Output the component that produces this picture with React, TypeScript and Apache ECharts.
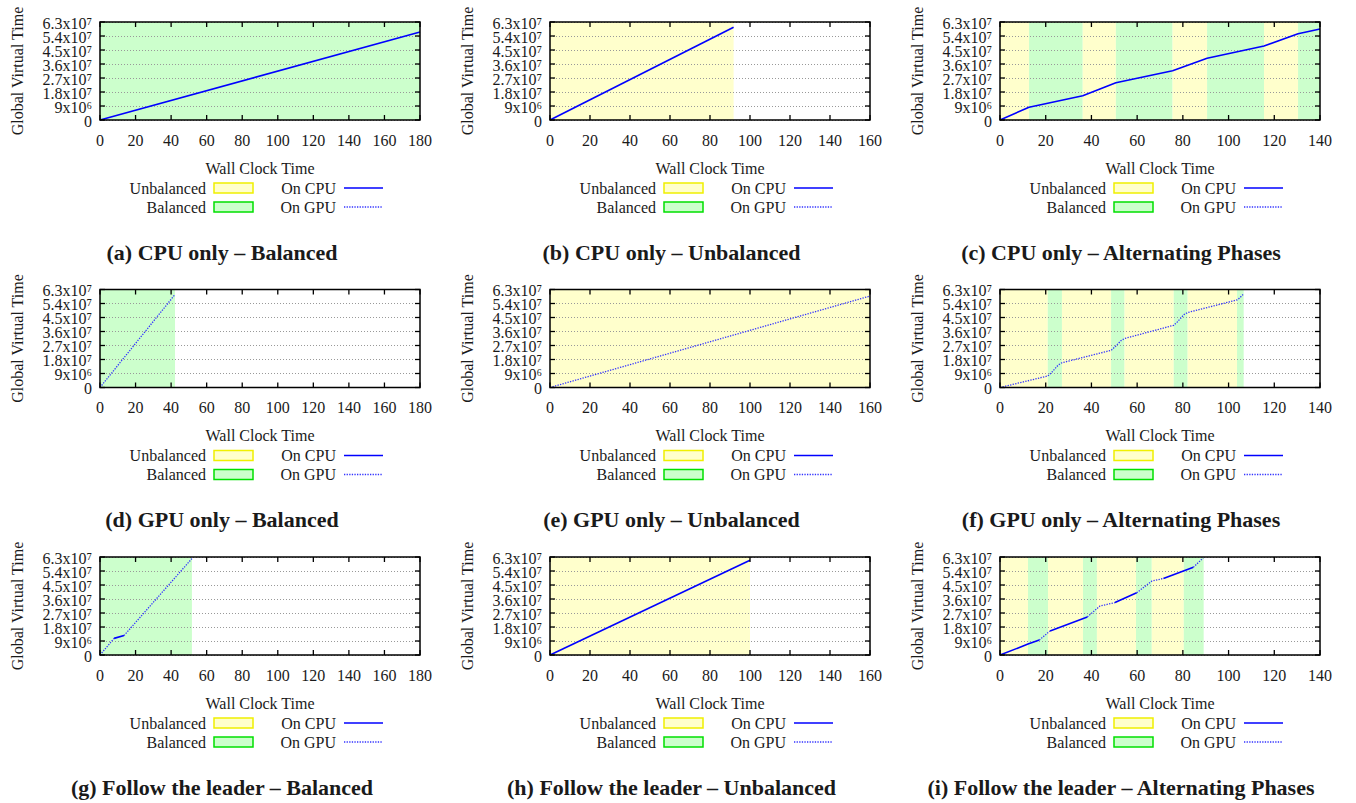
import React, { useEffect, useRef } from 'react';
import * as echarts from 'echarts';

const FONT = '"Liberation Serif", "Times New Roman", serif';
const TEXT = '#1a1a1a';

const captions = [
  '(a) CPU only – Balanced',
  '(b) CPU only – Unbalanced',
  '(c) CPU only – Alternating Phases',
  '(d) GPU only – Balanced',
  '(e) GPU only – Unbalanced',
  '(f) GPU only – Alternating Phases',
  '(g) Follow the leader – Balanced',
  '(h) Follow the leader – Unbalanced',
  '(i) Follow the leader – Alternating Phases',
];

const xTicks180 = [0, 20, 40, 60, 80, 100, 120, 140, 160, 180];
const xTicks160 = [0, 20, 40, 60, 80, 100, 120, 140, 160];
const xTicks140 = [0, 20, 40, 60, 80, 100, 120, 140];
const panelXTicks = [xTicks180, xTicks160, xTicks140, xTicks180, xTicks160, xTicks140, xTicks180, xTicks160, xTicks140];
const xInterval = 20;
const yMax = 6.3e7;
const yInterval = 9e6;
const yTicks = [0, 9e6, 1.8e7, 2.7e7, 3.6e7, 4.5e7, 5.4e7, 6.3e7];
const yTickLabels = ['0', '9x10⁶', '1.8x10⁷', '2.7x10⁷', '3.6x10⁷', '4.5x10⁷', '5.4x10⁷', '6.3x10⁷'];

// phases: [start, end, kind]  U = Unbalanced, B = Balanced
const phasesA = [[0, 180, 'B']];
const phasesB = [[0, 91.8, 'U']];
const phasesC = [[0, 12.7, 'U'], [12.7, 36.2, 'B'], [36.2, 50.7, 'U'], [50.7, 75.5, 'B'], [75.5, 90.6, 'U'], [90.6, 115.5, 'B'], [115.5, 130.4, 'U'], [130.4, 140, 'B']];
const phasesD = [[0, 42.2, 'B']];
const phasesE = [[0, 160, 'U']];
const phasesF = [[0, 20.9, 'U'], [20.9, 27.1, 'B'], [27.1, 48.6, 'U'], [48.6, 54.5, 'B'], [54.5, 76, 'U'], [76, 82.1, 'B'], [82.1, 103.7, 'U'], [103.7, 106.6, 'B']];
const phasesG = [[0, 51.7, 'B']];
const phasesH = [[0, 100, 'U']];
const phasesI = [[0, 12.25, 'U'], [12.25, 21, 'B'], [21, 36.3, 'U'], [36.3, 42.4, 'B'], [42.4, 59.5, 'U'], [59.5, 66.4, 'B'], [66.4, 80.4, 'U'], [80.4, 89.1, 'B']];

// line segments: list of [wall clock, global virtual time] points
const cpuA = [[[0, 0], [180, 5.66e7]]];
const gpuA = [];
const cpuB = [[[0, 0], [91.8, 5.96e7]]];
const gpuB = [];
const cpuC = [[[0, 0], [12.7, 0.82e7], [36.2, 1.56e7], [50.7, 2.4e7], [75.5, 3.17e7], [90.6, 3.97e7], [115.5, 4.76e7], [130.4, 5.55e7], [140, 5.85e7]]];
const gpuC = [];
const cpuD = [];
const gpuD = [[[0, 0], [42, 5.95e7]]];
const cpuE = [];
const gpuE = [[[0, 0], [160, 5.88e7]]];
const cpuF = [];
const gpuF = [[[0, 0], [20.9, 0.74e7], [22.5, 0.95e7], [25.5, 1.45e7], [27.1, 1.59e7], [48.6, 2.39e7], [50.2, 2.6e7], [53, 3.02e7], [54.5, 3.15e7], [76, 4.0e7], [77.6, 4.22e7], [80.6, 4.7e7], [82.1, 4.82e7], [103.7, 5.63e7], [104.8, 5.75e7], [106.6, 6.02e7]]];
const cpuG = [[[7.9, 1.07e7], [13.5, 1.25e7]]];
const gpuG = [[[0, 0], [7.9, 1.07e7]], [[13.5, 1.25e7], [51.7, 6.2e7]]];
const cpuH = [[[0, 0], [100, 6.09e7]]];
const gpuH = [];
const cpuI = [[[0, 0], [12.25, 0.7e7], [17.2, 0.96e7]], [[21.9, 1.55e7], [38.2, 2.45e7]], [[50.3, 3.37e7], [59.8, 4.0e7]], [[71.5, 4.92e7], [84.6, 5.64e7]]];
const gpuI = [[[17.2, 0.96e7], [21.9, 1.55e7]], [[38.2, 2.45e7], [43.75, 3.15e7], [50.3, 3.37e7]], [[59.8, 4.0e7], [66.4, 4.75e7], [71.5, 4.92e7]], [[84.6, 5.64e7], [88.9, 6.24e7]]];

const panelPhases = [phasesA, phasesB, phasesC, phasesD, phasesE, phasesF, phasesG, phasesH, phasesI];
const panelCpu = [cpuA, cpuB, cpuC, cpuD, cpuE, cpuF, cpuG, cpuH, cpuI];
const panelGpu = [gpuA, gpuB, gpuC, gpuD, gpuE, gpuF, gpuG, gpuH, gpuI];

const YELLOW_FILL = '#ffffcc';
const GREEN_FILL = '#ccffcc';
const YELLOW_EDGE = '#f0f000';
const GREEN_EDGE = '#00e000';
const CPU_COLOR = '#0000ff';
const GPU_COLOR = '#3333ff';
const TICK_LEN = 5;

const PLOT_W = 320;
const PLOT_H = 98;
const plotLeft = (c: number) => 100 + 450 * c;
const plotTop = (r: number) => 22 + 267.5 * r;
const captionCenter = (c: number) => 222 + 449.5 * c;

function buildOption() {
  const grid: any[] = [];
  const xAxis: any[] = [];
  const yAxis: any[] = [];
  const series: any[] = [];

  for (let i = 0; i < 9; i++) {
    const r = Math.floor(i / 3);
    const c = i % 3;
    const xTicks = panelXTicks[i];
    const xMax = xTicks[xTicks.length - 1];
    grid.push({ left: plotLeft(c), top: plotTop(r), width: PLOT_W, height: PLOT_H, containLabel: false, show: false });
    xAxis.push({
      type: 'value', gridIndex: i, min: 0, max: xMax, interval: xInterval, position: 'bottom', z: 2,
      axisLine: { show: false }, axisTick: { show: false }, splitLine: { show: false },
      axisLabel: { show: true, margin: 12, fontSize: 16, fontFamily: FONT, color: TEXT, showMinLabel: true, showMaxLabel: true },
      name: 'Wall Clock Time', nameLocation: 'middle', nameGap: 40,
      nameTextStyle: { fontSize: 16, fontFamily: FONT, color: TEXT },
    });
    yAxis.push({
      type: 'value', gridIndex: i, min: 0, max: yMax, interval: yInterval, position: 'left', z: 2,
      axisLine: { show: false }, axisTick: { show: false }, axisLabel: { show: false },
      splitLine: { show: true, lineStyle: { color: '#999', width: 1, type: [1, 2] } },
      name: 'Global Virtual Time', nameLocation: 'middle', nameGap: 75, nameRotate: 90,
      nameTextStyle: { fontSize: 16, fontFamily: FONT, color: TEXT },
    });

    series.push({
      type: 'line', name: 'phases', xAxisIndex: i, yAxisIndex: i, data: [], z: 1, silent: true,
      markArea: {
        silent: true,
        label: { show: false },
        data: panelPhases[i].map((p: any) => [
          { xAxis: p[0], itemStyle: { color: p[2] === 'U' ? YELLOW_FILL : GREEN_FILL, opacity: 1 } },
          { xAxis: p[1] },
        ]),
      },
    });
    panelCpu[i].forEach((seg: any) => {
      series.push({
        type: 'line', name: 'On CPU', xAxisIndex: i, yAxisIndex: i, data: seg, z: 3,
        showSymbol: false, symbol: 'none', silent: true,
        lineStyle: { color: CPU_COLOR, width: 1.6 },
      });
    });
    panelGpu[i].forEach((seg: any) => {
      series.push({
        type: 'line', name: 'On GPU', xAxisIndex: i, yAxisIndex: i, data: seg, z: 3,
        showSymbol: false, symbol: 'none', silent: true,
        lineStyle: { color: GPU_COLOR, width: 1.3, type: [1.3, 1.3] },
      });
    });
  }
  return { animation: false, backgroundColor: '#ffffff', grid, xAxis, yAxis, series };
}

// frame, mirrored inward ticks and y tick labels, placed through the axes' own scales
function buildGraphics(chart: any) {
  const g: any[] = [];
  const st = { stroke: '#000', lineWidth: 1.3 };
  for (let i = 0; i < 9; i++) {
    const r = Math.floor(i / 3);
    const c = i % 3;
    const L = plotLeft(c);
    const T = plotTop(r);
    const xTicks = panelXTicks[i];
    const xMax = xTicks[xTicks.length - 1];
    const px = (v: number, w: number) => chart.convertToPixel({ gridIndex: i }, [v, w]);
    const o = px(0, 0);
    const e = px(xMax, yMax);
    g.push({ type: 'rect', z: 20, silent: true, shape: { x: o[0], y: e[1], width: e[0] - o[0], height: o[1] - e[1] }, style: { fill: 'none', stroke: '#000', lineWidth: 1.5 } });
    xTicks.forEach((v) => {
      const x = px(v, 0)[0];
      g.push({ type: 'line', z: 20, silent: true, shape: { x1: x, y1: o[1], x2: x, y2: o[1] - TICK_LEN }, style: st });
      g.push({ type: 'line', z: 20, silent: true, shape: { x1: x, y1: e[1], x2: x, y2: e[1] + TICK_LEN }, style: st });
    });
    yTicks.forEach((v, k) => {
      const y = px(0, v)[1];
      g.push({ type: 'line', z: 20, silent: true, shape: { x1: o[0], y1: y, x2: o[0] + TICK_LEN, y2: y }, style: st });
      g.push({ type: 'line', z: 20, silent: true, shape: { x1: e[0], y1: y, x2: e[0] - TICK_LEN, y2: y }, style: st });
      g.push({ type: 'text', z: 20, silent: true, x: o[0] - 8, y: y + 1, style: { text: yTickLabels[k], fontSize: 16, fontFamily: FONT, fill: TEXT, align: 'right', verticalAlign: 'middle' } });
    });

    // legend (gnuplot style: text, then key)
    const ly1 = T + 166;
    const ly2 = T + 185;
    g.push(
      { type: 'text', x: L + 106, y: ly1, style: { text: 'Unbalanced', fontSize: 16, fontFamily: FONT, fill: TEXT, align: 'right', verticalAlign: 'middle' } },
      { type: 'rect', shape: { x: L + 114, y: ly1 - 5, width: 39, height: 10 }, style: { fill: YELLOW_FILL, stroke: YELLOW_EDGE, lineWidth: 1.5 } },
      { type: 'text', x: L + 106, y: ly2, style: { text: 'Balanced', fontSize: 16, fontFamily: FONT, fill: TEXT, align: 'right', verticalAlign: 'middle' } },
      { type: 'rect', shape: { x: L + 114, y: ly2 - 5, width: 39, height: 10 }, style: { fill: GREEN_FILL, stroke: GREEN_EDGE, lineWidth: 1.5 } },
      { type: 'text', x: L + 236, y: ly1, style: { text: 'On CPU', fontSize: 16, fontFamily: FONT, fill: TEXT, align: 'right', verticalAlign: 'middle' } },
      { type: 'line', shape: { x1: L + 244, y1: ly1, x2: L + 283, y2: ly1 }, style: { stroke: CPU_COLOR, lineWidth: 1.6 } },
      { type: 'text', x: L + 236, y: ly2, style: { text: 'On GPU', fontSize: 16, fontFamily: FONT, fill: TEXT, align: 'right', verticalAlign: 'middle' } },
      { type: 'line', shape: { x1: L + 244, y1: ly2, x2: L + 283, y2: ly2 }, style: { stroke: GPU_COLOR, lineWidth: 1.3, lineDash: [1.3, 1.3] } },
      { type: 'text', x: captionCenter(c), y: T + 230, style: { text: captions[i], fontSize: 22, fontWeight: 'bold', fontFamily: FONT, fill: TEXT, align: 'center', verticalAlign: 'middle' } },
    );
  }
  return g;
}

export default function App() {
  const ref = useRef<HTMLDivElement>(null);
  useEffect(() => {
    if (!ref.current) return;
    const chart = echarts.init(ref.current, undefined, { renderer: 'svg' });
    chart.setOption(buildOption());
    chart.setOption({ graphic: buildGraphics(chart) });
    return () => chart.dispose();
  }, []);
  return <div ref={ref} style={{ position: 'absolute', left: 0, top: 0, width: 1356, height: 803 }} />;
}
